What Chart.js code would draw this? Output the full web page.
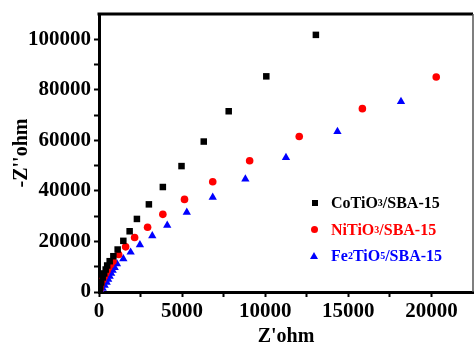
<!DOCTYPE html>
<html>
<head>
<meta charset="utf-8">
<script src="https://cdn.jsdelivr.net/npm/chart.js@4/dist/chart.umd.min.js"></script>
<style>
  html, body { margin: 0; padding: 0; background: #fff; }
  #wrap { position: relative; width: 474px; height: 347px; }
  #legend { position: absolute; left: 309px; top: 190px; font-family: "Liberation Serif", "Times New Roman", serif; font-weight: bold; font-size: 16px; line-height: 26.5px; }
  #legend .row { display: flex; align-items: center; white-space: nowrap; }
  #legend .mk { display: inline-block; width: 12px; margin-right: 10px; position: relative; height: 10px; }
  #legend sub { font-size: 10px; vertical-align: -4px; line-height: 0; }
  .sq { position:absolute; left:3px; top:2px; width:6px; height:6px; background:#000; }
  .ci { position:absolute; left:2px; top:1px; width:7px; height:7px; border-radius:50%; background:#ff0000; }
  .tr { position:absolute; left:1px; top:1px; width:0; height:0; border-left:4px solid transparent; border-right:4px solid transparent; border-bottom:7px solid #0000ff; }
</style>
</head>
<body>
<div id="wrap">
  <canvas id="c" width="474" height="347"></canvas>
  <div id="legend">
    <div class="row" style="color:#000"><span class="mk"><span class="sq"></span></span>CoTiO<sub>3</sub>/SBA-15</div>
    <div class="row" style="color:#ff0000"><span class="mk"><span class="ci"></span></span>NiTiO<sub>3</sub>/SBA-15</div>
    <div class="row" style="color:#0000ff"><span class="mk"><span class="tr"></span></span>Fe<sub>2</sub>TiO<sub>5</sub>/SBA-15</div>
  </div>
</div>
<script>
// Series names
const seriesNames = ['CoTiO3/SBA-15', 'NiTiO3/SBA-15', 'Fe2TiO5/SBA-15'];

// CoTiO3/SBA-15 (Z', -Z'')
const coX = [42, 72, 132, 222, 312, 402, 492, 642, 864, 1122, 1464, 1843, 2281, 3001, 3841, 4964, 6302, 7803, 10065, 13048];
const coY = [1000, 2200, 3790, 5760, 7340, 8900, 10490, 12190, 14160, 16810, 20240, 24030, 28910, 34680, 41540, 49820, 59530, 71520, 85330, 101740];

// NiTiO3/SBA-15
const niX = [42, 72, 132, 222, 312, 402, 492, 582, 702, 840, 1182, 1603, 2143, 2923, 3841, 5144, 6842, 9063, 12046, 15845, 20288];
const niY = [830, 2010, 3390, 4770, 6150, 7340, 8520, 9700, 10890, 12190, 14830, 17870, 21540, 25600, 30730, 36650, 43630, 51920, 61500, 72550, 85050];

// Fe2TiO5/SBA-15
const feX = [102, 222, 342, 462, 552, 642, 732, 822, 942, 1080, 1464, 1903, 2461, 3205, 4105, 5282, 6842, 8805, 11248, 14345, 18168];
const feY = [630, 1420, 2600, 3790, 4970, 6150, 7340, 8520, 9700, 11160, 13140, 15740, 18660, 22210, 26390, 31520, 37440, 44690, 53220, 63480, 75310];

// Axis settings
const xTitle = "Z'ohm";
const yTitle = "-Z''ohm";
const xMajor = [0, 5000, 10000, 15000, 20000];
const yMajor = [0, 20000, 40000, 60000, 80000, 100000];

const pts = (xs, ys) => xs.map((x, i) => ({ x: x, y: ys[i] }));

const FONT = "'Liberation Serif', 'Times New Roman', serif";

const framePlugin = {
  id: 'frame',
  afterDraw(chart) {
    const a = chart.chartArea, ctx = chart.ctx;
    ctx.save();
    ctx.strokeStyle = '#000';
    ctx.lineWidth = 3;
    ctx.beginPath();
    ctx.moveTo(a.left - 1.5, a.top);
    ctx.lineTo(a.right, a.top);
    ctx.stroke();
    ctx.strokeStyle = '#555';
    ctx.lineWidth = 1.5;
    ctx.beginPath();
    ctx.moveTo(a.right, a.top);
    ctx.lineTo(a.right, a.bottom);
    ctx.stroke();
    ctx.restore();
  }
};

const zeroPad = (s) => { s.paddingLeft = 0; s.paddingRight = 0; s.paddingTop = 0; s.paddingBottom = 0; };

const chart = new Chart(document.getElementById('c'), {
  type: 'scatter',
  data: {
    datasets: [
      { label: seriesNames[0], data: pts(coX, coY), pointStyle: 'rect', pointRadius: 4.6, backgroundColor: '#000', borderColor: '#000', borderWidth: 0 },
      { label: seriesNames[1], data: pts(niX, niY), pointStyle: 'circle', pointRadius: 3.8, backgroundColor: '#ff0000', borderColor: '#ff0000', borderWidth: 0 },
      { label: seriesNames[2], data: pts(feX, feY), pointStyle: 'triangle', pointRadius: 4.8, backgroundColor: '#0000ff', borderColor: '#0000ff', borderWidth: 0 }
    ]
  },
  options: {
    responsive: false,
    animation: false,
    layout: { autoPadding: false, padding: { top: 14, right: 1, left: 0, bottom: 0 } },
    plugins: { legend: { display: false }, tooltip: { enabled: false } },
    scales: {
      x: {
        type: 'linear', min: 0, max: 22500,
        afterFit(s) { s.height = 55; zeroPad(s); },
        border: { display: true, color: '#000', width: 3 },
        grid: { drawOnChartArea: false, drawTicks: true, tickLength: 5, tickWidth: 2,
                tickColor: (c) => (c.tick && c.tick.value > 20000) ? 'rgba(0,0,0,0)' : '#000' },
        ticks: { stepSize: 2500, autoSkip: false, maxRotation: 0, padding: 2, color: '#000',
                 font: { family: FONT, size: 21, weight: 'bold' },
                 callback: (v) => xMajor.includes(v) ? String(v) : '' },
        title: { display: true, text: xTitle, color: '#000', padding: { top: 0, bottom: 0 },
                 font: { family: FONT, size: 20, weight: 'bold', lineHeight: 1.0 } }
      },
      y: {
        type: 'linear', min: 0, max: 110000,
        afterFit(s) { s.width = 99; zeroPad(s); },
        border: { display: true, color: '#000', width: 3 },
        grid: { drawOnChartArea: false, drawTicks: true, tickLength: 5, tickWidth: 2,
                tickColor: (c) => (c.tick && c.tick.value > 100000) ? 'rgba(0,0,0,0)' : '#000' },
        ticks: { stepSize: 10000, autoSkip: false, padding: 3, color: '#000',
                 font: { family: FONT, size: 21, weight: 'bold' },
                 callback: (v) => yMajor.includes(v) ? String(v) : '' },
        title: { display: true, text: yTitle, color: '#000', padding: { top: 10, bottom: 0 },
                 font: { family: FONT, size: 20, weight: 'bold' } }
      }
    }
  },
  plugins: [framePlugin]
});

// Fit the plot area to the reference frame (right edge at 473, top at 14)
const targetRight = 473, targetTop = 14;
for (let i = 0; i < 3; i++) {
  const a0 = chart.chartArea;
  const dr = targetRight - a0.right;
  const dt = a0.top - targetTop;
  if (Math.abs(dr) < 0.2 && Math.abs(dt) < 0.2) break;
  chart.options.layout.padding.right -= dr;
  chart.options.layout.padding.top -= dt;
  chart.update();
}
</script>
</body>
</html>
